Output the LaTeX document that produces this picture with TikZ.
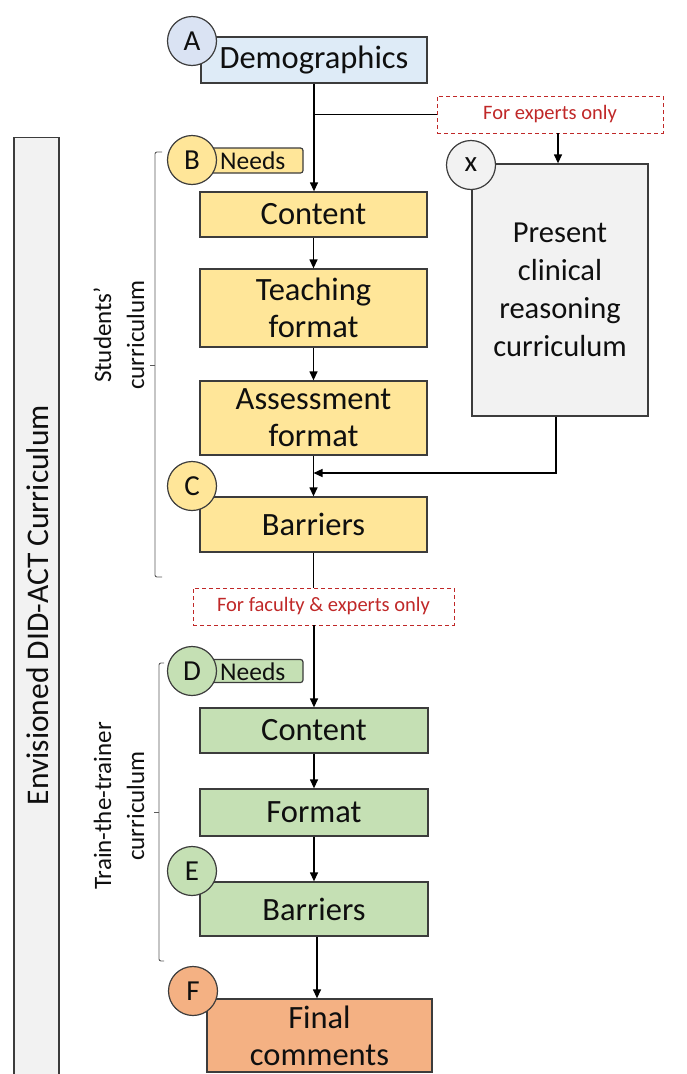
\documentclass[tikz,border=0pt]{standalone}
\usepackage{fontspec}
\setmainfont{Carlito}
\usetikzlibrary{arrows.meta}

\definecolor{edge}{RGB}{60,60,60}
\definecolor{txt}{RGB}{15,15,15}
\definecolor{blueF}{RGB}{222,235,247}
\definecolor{blueC}{RGB}{218,227,243}
\definecolor{yelF}{RGB}{255,230,153}
\definecolor{grnF}{RGB}{197,224,180}
\definecolor{orgF}{RGB}{244,177,131}
\definecolor{gryF}{RGB}{242,242,242}
\definecolor{redT}{RGB}{192,40,40}
\definecolor{brk}{RGB}{90,90,90}

\tikzset{
  box/.style={draw=edge, line width=1.3pt, minimum width=#1, inner sep=0pt,
    text=txt, align=center, font=\fontsize{32.5}{37}\selectfont},
  letter/.style={circle, draw=edge, line width=1.2pt, minimum size=49pt,
    inner sep=0pt, text=txt, font=\fontsize{29}{30}\selectfont},
  tag/.style={draw=edge, line width=1.2pt, rounded corners=2.5pt,
    minimum width=100pt, inner sep=0pt},
  tagtext/.style={anchor=west, inner sep=0pt, text=txt,
    font=\fontsize{25.5}{28}\selectfont},
  gate/.style={draw=redT, dashed, dash pattern=on 4pt off 3pt, line width=0.9pt,
    inner sep=0pt, text=redT, font=\fontsize{20.5}{24}\selectfont},
  link/.style={draw=black, line width=1.3pt},
  flow/.style={link, -{Triangle[length=9pt,width=8pt]}},
  bracket/.style={draw=brk, line width=0.9pt, rounded corners=2pt},
  side/.style={rotate=90, align=center, text=txt,
    font=\fontsize{25}{33}\selectfont},
}

\begin{document}
\begin{tikzpicture}[x=1pt, y=-1pt]
\useasboundingbox (0,0) rectangle (687,1074);

% overall curriculum band on the left
\node[draw=edge, line width=1.3pt, fill=gryF, minimum width=45pt,
      minimum height=945pt, inner sep=0pt, anchor=north] (band) at (36.5,137) {};
\node[rotate=90, text=txt, font=\fontsize{31.5}{36}\selectfont] (bandtext) at (38,605)
  {Envisioned DID-ACT Curriculum};

% demographics
\node[box=226pt, fill=blueF, minimum height=46pt] (demo) at (314,60) {Demographics};
\node[letter, fill=blueC] (cA) at (192,41) {A};

% students' curriculum
\node[tag, fill=yelF, minimum height=25pt] (needsB) at (253,160.5) {};
\node[tagtext] (needsBt) at (220,161) {Needs};
\node[letter, fill=yelF] (cB) at (192,160) {B};
\node[box=227pt, fill=yelF, minimum height=45pt] (scont) at (313.5,214.5) {Content};
\node[box=227pt, fill=yelF, minimum height=78pt] (steach) at (313.5,308) {Teaching\\format};
\node[box=227pt, fill=yelF, minimum height=74pt] (sassess) at (313.5,418) {Assessment\\format};
\node[box=227pt, fill=yelF, minimum height=55pt] (sbarr) at (313.5,524.5) {Barriers};
\node[letter, fill=yelF] (cC) at (192,486) {C};

% expert branch
\node[gate, minimum width=226pt, minimum height=37pt] (expgate) at (550,114.5) {For experts only};
\node[box=176pt, fill=gryF, minimum height=252pt, font=\fontsize{30.5}{38}\selectfont]
  (present) at (560,290) {Present\\clinical\\reasoning\\curriculum};
\node[letter, fill=gryF] (cX) at (471,165) {x};

% faculty gate
\node[gate, minimum width=261pt, minimum height=37pt] (facgate) at (323.5,606.5) {For faculty \& experts only};

% train-the-trainer curriculum
\node[tag, fill=grnF, minimum height=23pt] (needsD) at (253,671) {};
\node[tagtext] (needsDt) at (220,671.5) {Needs};
\node[letter, fill=grnF] (cD) at (192,671) {D};
\node[box=228pt, fill=grnF, minimum height=45pt] (tcont) at (314,730.5) {Content};
\node[box=228pt, fill=grnF, minimum height=47pt] (tform) at (314,812.5) {Format};
\node[box=228pt, fill=grnF, minimum height=54pt] (tbarr) at (314,909) {Barriers};
\node[letter, fill=grnF] (cE) at (192,871) {E};

% final comments
\node[box=225pt, fill=orgF, minimum height=73pt] (final) at (319.5,1035.5) {Final\\comments};
\node[letter, fill=orgF] (cF) at (193,991) {F};

% brackets and their labels
\draw[bracket] (162,152) -- (155,152) -- (155,577) -- (162,577);
\draw[bracket] (155,365) -- (150,365);
\node[side] (slabel) at (119,335) {Students’\\curriculum};
\draw[bracket] (164,663) -- (159,663) -- (159,961) -- (164,961);
\draw[bracket] (159,812) -- (154,812);
\node[side] (tlabel) at (119,806) {Train-the-trainer\\curriculum};

% connectors
\coordinate (split) at (demo.south |- expgate.west);
\coordinate (expcol) at (558,0);
\coordinate (fincol) at (317,0);
\coordinate (join) at (556,473);
\draw[flow] (demo.south) -- (demo.south |- scont.north);
\draw[link] (split) -- (expgate.west);
\draw[flow] (expgate.south -| expcol) -- (present.north -| expcol);
\draw[flow] (scont.south) -- (steach.north);
\draw[flow] (steach.south) -- (sassess.north);
\draw[flow] (sassess.south) -- (sbarr.north);
\draw[flow] (present.south -| join) -- (join) -- (sbarr.north |- join);
\draw[link] (sbarr.south) -- (sbarr.south |- facgate.north);
\draw[flow] (facgate.south -| tcont.north) -- (tcont.north);
\draw[flow] (tcont.south) -- (tform.north);
\draw[flow] (tform.south) -- (tbarr.north);
\draw[flow] (tbarr.south -| fincol) -- (final.north -| fincol);
\end{tikzpicture}
\end{document}
